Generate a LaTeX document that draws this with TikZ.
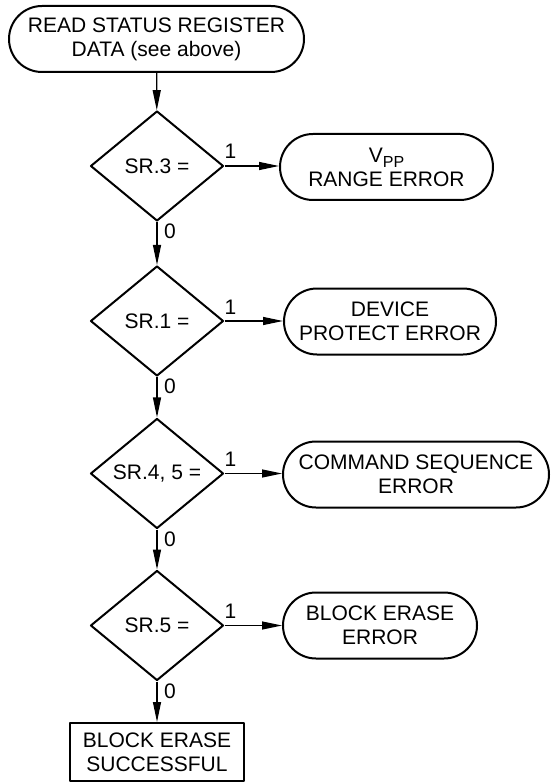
\documentclass[tikz,border=0pt]{standalone}
\usepackage{fontspec}
\setmainfont{Liberation Sans}
\usetikzlibrary{shapes.geometric,shapes.misc,arrows.meta}
\tikzset{
  term/.style={draw,line width=2pt,rounded rectangle,minimum height=66pt,inner sep=0pt,align=center},
  test/.style={draw,line width=2pt,diamond,minimum width=133pt,minimum height=110pt,inner sep=0pt},
  done/.style={draw,line width=2pt,rectangle,minimum width=174pt,minimum height=58pt,inner sep=0pt,align=center},
  flow/.style={line width=1.2pt,->},
  bit/.style={inner sep=0pt}
}
\begin{document}
\begin{tikzpicture}[x=1pt,y=1pt, font=\fontsize{21}{24}\selectfont, line join=round, >={Triangle[length=20pt,width=8pt]}]
\useasboundingbox (0,0) rectangle (552,-783);
% start and tests
\node[term,minimum width=295pt] (rsr) at (156.5,-39) {READ STATUS REGISTER\\DATA (see above)};
\node[test] (sr3) at (157,-166) {SR.3 =};
\node[test] (sr1) at (157,-321) {SR.1 =};
\node[test] (sr45) at (157,-473.5) {SR.4, 5 =};
\node[test] (sr5) at (157,-625.5) {SR.5 =};
\node[done] (ok) at (157,-752) {BLOCK ERASE\\SUCCESSFUL};
% error exits
\node[term,minimum width=213pt] (vpp) at (386.5,-167) {V\raisebox{-5pt}{\fontsize{16}{16}\selectfont PP}\\RANGE ERROR};
\node[term,minimum width=212pt] (dpe) at (390,-321.5) {DEVICE\\PROTECT ERROR};
\node[term,minimum width=266pt] (cse) at (416,-474.5) {COMMAND SEQUENCE\\ERROR};
\node[term,minimum width=194pt] (bee) at (380,-625.5) {BLOCK ERASE\\ERROR};
% connectors
\draw[flow] (rsr) -- (sr3);
\draw[flow] (sr3) -- (sr1);
\draw[flow] (sr1) -- (sr45);
\draw[flow] (sr45) -- (sr5);
\draw[flow] (sr5) -- (ok);
\draw[flow] (sr3.east) -- (vpp.west |- sr3.east);
\draw[flow] (sr1.east) -- (dpe.west |- sr1.east);
\draw[flow] (sr45.east) -- (cse.west |- sr45.east);
\draw[flow] (sr5.east) -- (bee.west |- sr5.east);
% bit values
\node[bit,anchor=base west] (y3) at ([shift={(0,7)}]sr3.east) {1};
\node[bit,anchor=base west] (y1) at ([shift={(0,7)}]sr1.east) {1};
\node[bit,anchor=base west] (y45) at ([shift={(0,7)}]sr45.east) {1};
\node[bit,anchor=base west] (y5) at ([shift={(0,7)}]sr5.east) {1};
\node[bit,anchor=north west] (n3) at ([shift={(7,-2)}]sr3.south) {0};
\node[bit,anchor=north west] (n1) at ([shift={(7,-2)}]sr1.south) {0};
\node[bit,anchor=north west] (n45) at ([shift={(7,-2)}]sr45.south) {0};
\node[bit,anchor=north west] (n5) at ([shift={(7,-2)}]sr5.south) {0};
\end{tikzpicture}
\end{document}
